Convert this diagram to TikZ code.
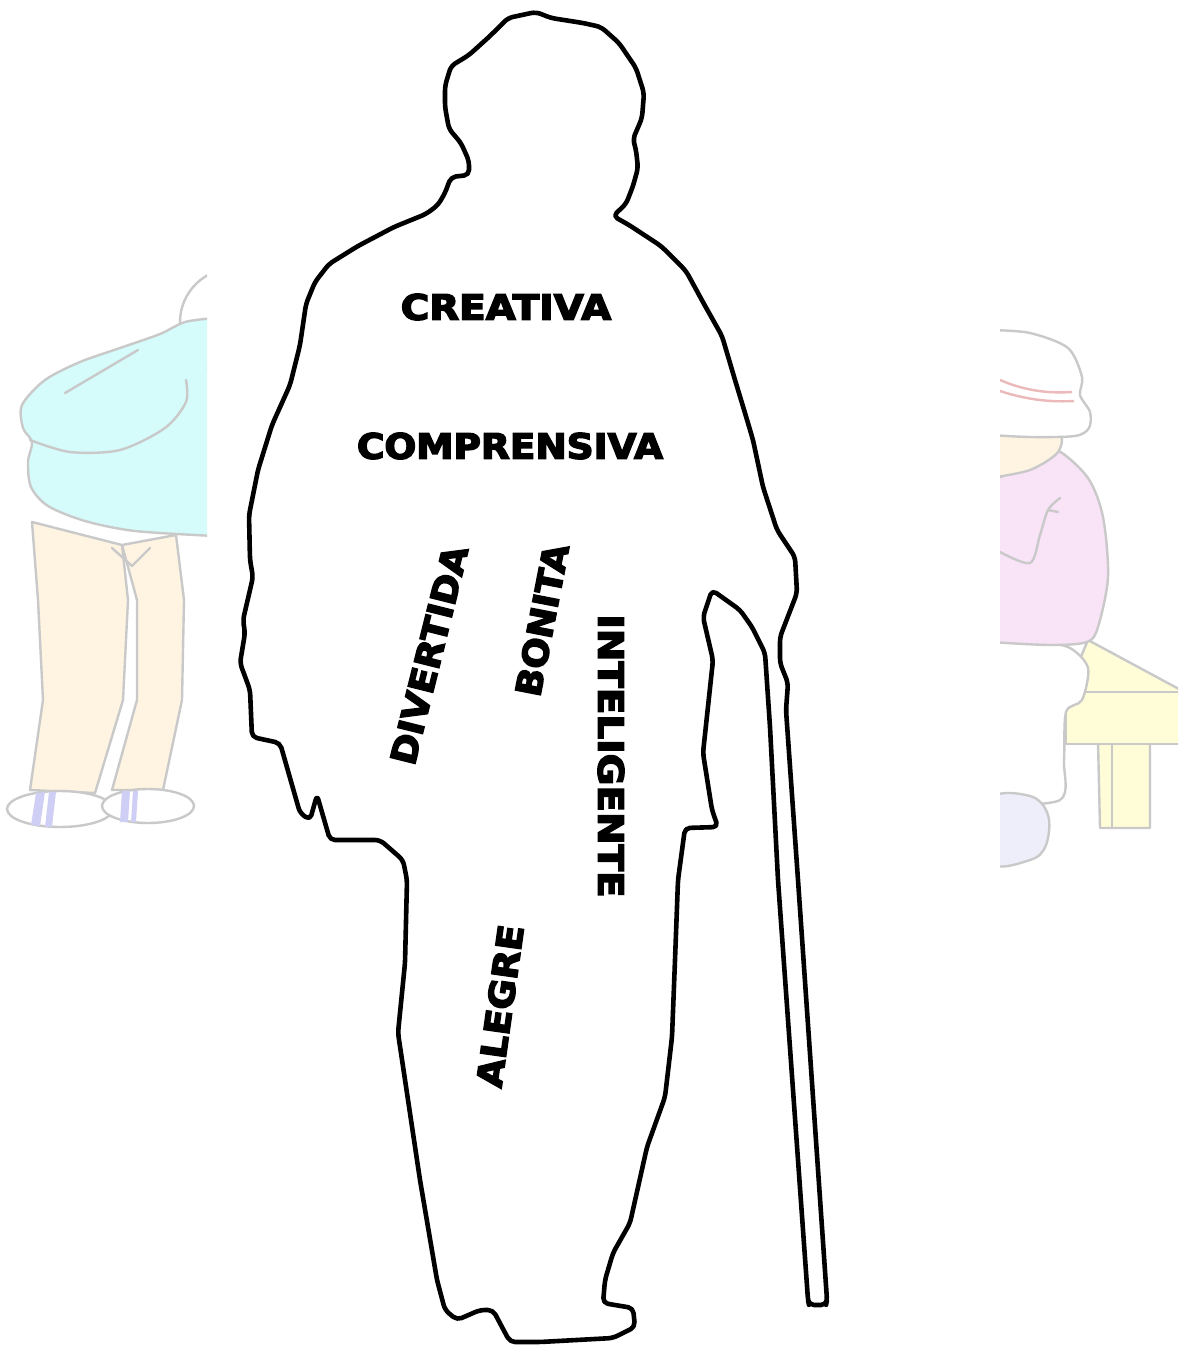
\documentclass[tikz,border=0pt]{standalone}
\usepackage{fontspec}
\usepackage{graphicx}
\newfontfamily\wordfont{DejaVu Sans}[BoldFeatures={FakeBold=4}]
\definecolor{sk}{HTML}{C9C9C9}
\definecolor{cyanw}{HTML}{D5FBFB}
\definecolor{beige}{HTML}{FFF4E2}
\definecolor{pinkw}{HTML}{F9E3F7}
\definecolor{yelw}{HTML}{FFFCD8}
\definecolor{lav}{HTML}{CFCFF5}
\definecolor{band}{HTML}{EBB9B9}
\begin{document}
\begin{tikzpicture}[x=1pt,y=-1pt,
  faint/.style={draw=sk, line width=2.4pt, line join=round, line cap=round},
  outline/.style={draw=black, line width=4.6pt, line join=round, rounded corners=5pt},
  word/.style={font=\wordfont\bfseries\fontsize{35}{35}\selectfont, inner sep=0pt}]
\useasboundingbox (0,0) rectangle (1178,1351);
\fill[white] (0,0) rectangle (1178,1351);

% ---- faded figure on the left: bent man in a cyan sweater ----
\begin{scope}
\clip (0,0) rectangle (207,1351);
% head
\draw[faint, fill=white] (235,322) ellipse [x radius=55, y radius=54];
% legs
\draw[faint, fill=beige] (32,522) -- (38,600) -- (43,700) -- (30,790) -- (95,793)
  -- (123,700) -- (128,600) -- (122,545) -- cycle;
\draw[faint, fill=beige] (122,545) -- (137,600) -- (137,700) -- (112,790) -- (163,790)
  -- (182,700) -- (184,600) -- (176,535) -- cycle;
\draw[faint] (112,548) -- (132,566) -- (150,548);
% sweater
\draw[faint, fill=cyanw] plot[smooth, tension=0.5] coordinates {(215,318) (185,322) (160,334)
  (120,348) (80,362) (45,380) (22,405) (23,428) (32,442) (28,462) (31,487) (48,506)
  (85,521) (135,531) (215,536)};
\draw[faint] plot[smooth, tension=0.5] coordinates {(30,440) (70,452) (120,450) (165,428) (186,402) (186,380)};
\draw[faint] (65,393) -- (138,350);
% shoes
\draw[faint, fill=white] (60,809) ellipse [x radius=53, y radius=18];
\draw[faint, fill=white] (148,806) ellipse [x radius=46, y radius=17];
\fill[lav] (36,793) -- (45,792) -- (40,826) -- (31,825) -- cycle;
\fill[lav] (49,792) -- (56,792) -- (52,827) -- (45,827) -- cycle;
\fill[lav] (122,791) -- (130,791) -- (128,822) -- (120,822) -- cycle;
\fill[lav] (133,791) -- (138,791) -- (136,822) -- (131,822) -- cycle;
\end{scope}

% ---- faded figure on the right: woman in a hat on a bench ----
\begin{scope}
\clip (1000,0) rectangle (1178,1351);
% bench
\draw[faint, fill=yelw] (1098,742) -- (1100,828) -- (1150,828) -- (1150,742) -- cycle;
\draw[faint] (1112,742) -- (1112,828);
\draw[faint, fill=yelw] (1088,640) -- (1190,695) -- (1066,692) -- cycle;
\draw[faint, fill=yelw] (1066,692) -- (1190,692) -- (1190,744) -- (1066,744) -- cycle;
% legs and shoe
\draw[faint, fill=white] plot[smooth, tension=0.5] coordinates {(990,640) (1040,642) (1070,648)
  (1088,668) (1082,700) (1066,712) (1064,760) (1060,800) (990,805)};
\draw[faint, fill=lav!35] plot[smooth cycle, tension=0.6] coordinates {(990,800) (1030,796) (1048,815) (1046,845) (1030,860) (990,862)};
% sweater
\draw[faint, fill=pinkw] plot[smooth, tension=0.5] coordinates {(990,458) (1030,452) (1057,450)
  (1088,478) (1103,517) (1108,577) (1098,627) (1087,642) (1050,645) (990,642)};
\draw[faint] plot[smooth, tension=0.5] coordinates {(1060,498) (1048,510) (1040,535) (1030,563) (1000,552)};
\draw[faint] (1048,510) -- (1058,512);
\draw[faint] (990,480) -- (1030,468);
% face
\draw[faint, fill=beige] plot[smooth, tension=0.5] coordinates {(990,430) (1056,432) (1058,452) (1030,470) (990,478)};
% hat
\draw[faint, fill=white] plot[smooth, tension=0.5] coordinates {(990,330) (1030,333) (1068,348)
  (1082,377) (1080,395) (1090,412) (1089,428) (1075,436) (1030,437) (990,435)};
\draw[band, line width=2.4pt] (1000,380) .. controls (1030,393) and (1055,393) .. (1072,392);
\draw[band, line width=2.4pt] (1000,391) .. controls (1030,401) and (1055,402) .. (1074,401);
\end{scope}

% ---- silhouette of the old woman with her cane ----
\draw[outline, fill=white] (306,304) -- (315,282) -- (329,264) -- (358,246) -- (394,227)
  -- (426,214) -- (438,205) -- (445,193) -- (451,177) -- (469,175) -- (469,161)
  -- (461,143) -- (449,129) -- (445,107) -- (445,86) -- (451,66) -- (469,55)
  -- (490,36) -- (508,18) -- (536,12) -- (551,18) -- (583,23) -- (601,27)
  -- (619,43) -- (636,68) -- (644,93) -- (642,118) -- (633,139) -- (636,150)
  -- (638,168) -- (633,186) -- (626,204) -- (613,216) -- (629,225) -- (661,246)
  -- (686,271) -- (704,304) -- (722,336) -- (735,380) -- (745,413) -- (753,440)
  -- (763,487) -- (777,530) -- (795,557) -- (797,593) -- (780,637) -- (780,663)
  -- (788,683) -- (786,710) -- (798,880) -- (827,1300) -- (826,1305) -- (809,1305)
  -- (808,1300) -- (778,880) -- (770,727) -- (765,653) -- (752,627) -- (740,610)
  -- (712,590) -- (703,617) -- (713,660) -- (703,753) -- (712,810) -- (718,827)
  -- (685,828) -- (678,880) -- (675,960) -- (672,1037) -- (665,1097) -- (647,1147)
  -- (630,1223) -- (613,1253) -- (605,1280) -- (603,1303) -- (633,1308) -- (635,1327)
  -- (613,1338) -- (540,1342) -- (510,1342) -- (502,1327) -- (493,1310) -- (480,1310)
  -- (457,1320) -- (445,1310) -- (437,1280) -- (420,1180) -- (398,1033) -- (405,963)
  -- (407,880) -- (403,860) -- (380,840) -- (330,840) -- (317,795) -- (310,820)
  -- (300,813) -- (280,743) -- (252,737) -- (250,690) -- (240,663) -- (245,633)
  -- (243,620) -- (253,577) -- (250,560) -- (249,515) -- (258,470) -- (272,425)
  -- (290,385) -- (300,345) -- cycle;

% ---- words written on the figure ----
\node[word] (creativa) at (506,307) {\scalebox{1.11}[1]{CREATIVA}};
\node[word] (comprensiva) at (510,446) {\scalebox{1.07}[1]{COMPRENSIVA}};
\node[word, rotate=76] (divertida) at (429,655) {\scalebox{1.06}[1]{DIVERTIDA}};
\node[word, rotate=79] (bonita) at (542,620) {\scalebox{1.05}[1]{BONITA}};
\node[word, rotate=-90] (inteligente) at (611,756) {\scalebox{1.11}[1]{INTELIGENTE}};
\node[word, rotate=82] (alegre) at (500,1006) {\scalebox{1.07}[1]{ALEGRE}};
\end{tikzpicture}
\end{document}
